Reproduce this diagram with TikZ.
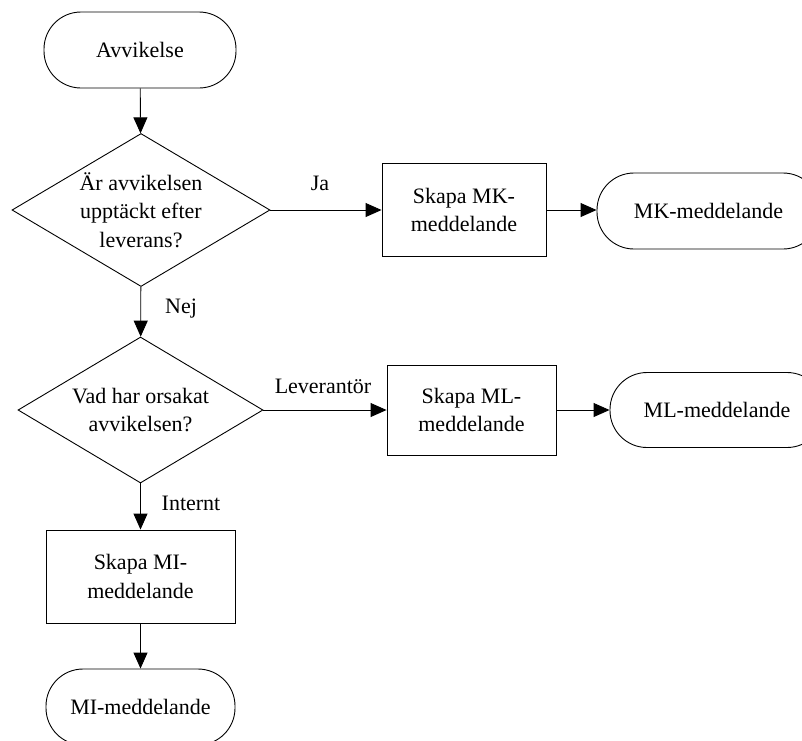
\documentclass[tikz,border=0pt]{standalone}
\usepackage{fontspec}
\setmainfont{Liberation Serif}
\usetikzlibrary{shapes.geometric,arrows.meta}

\begin{document}
\begin{tikzpicture}[x=1pt,y=-1pt,
  every node/.style={font=\fontsize{22}{28.5}\selectfont, align=center, inner sep=0pt},
  terminal/.style={draw, line width=0.9pt, rectangle, rounded corners=37pt, minimum height=76pt},
  process/.style={draw, line width=0.9pt, rectangle},
  decision/.style={draw, line width=0.9pt, diamond},
  inside/.style={font=\fontsize{22}{28.5}\selectfont, align=center, inner sep=0pt},
  flow/.style={line width=0.9pt, -{Triangle[length=16pt,width=14pt]}},
  lbl/.style={font=\fontsize{22}{26}\selectfont}
]
\useasboundingbox (0,0) rectangle (802,740);

% main column
\node[terminal, minimum width=192pt] (start) at (140,50) {Avvikelse};
\node[decision, minimum width=258pt, minimum height=153pt,
  label={[inside]center:Är avvikelsen\\upptäckt efter\\leverans?}] (q1) at (141,210) {};
\node[decision, minimum width=245pt, minimum height=146pt,
  label={[inside]center:Vad har orsakat\\avvikelsen?}] (q2) at (140.5,410) {};
\node[process, minimum width=189pt, minimum height=93pt] (mibox) at (140.5,576.5)
  {Skapa MI-\\meddelande};
\node[terminal, minimum width=189pt] (miend) at (140.5,707) {MI-meddelande};

% MK branch
\node[process, minimum width=164pt, minimum height=93pt] (mkbox) at (464,210)
  {Skapa MK-\\meddelande};
\node[terminal, minimum width=223pt] (mkend) at (708.5,211) {MK-meddelande};

% ML branch
\node[process, minimum width=169pt, minimum height=90pt] (mlbox) at (471.5,410)
  {Skapa ML-\\meddelande};
\node[terminal, minimum width=214pt, minimum height=75pt] (mlend) at (717,410) {ML-meddelande};

% connectors
\draw[flow] (start) -- (q1);
\draw[flow] (q1) -- (q2);
\draw[flow] (q2) -- (mibox);
\draw[flow] (mibox) -- (miend);
\draw[flow] (q1.east) -- (q1.east -| mkbox.west);
\draw[flow] (mkbox.east) -- (mkbox.east -| mkend.west);
\draw[flow] (q2.east) -- (q2.east -| mlbox.west);
\draw[flow] (mlbox.east) -- (mlbox.east -| mlend.west);

% branch labels
\node[lbl] (ja) at (320,183) {Ja};
\node[lbl] (nej) at (181,309) {Nej};
\node[lbl] (lev) at (323,386) {Leverantör};
\node[lbl] (int) at (191,503) {Internt};
\end{tikzpicture}
\end{document}
